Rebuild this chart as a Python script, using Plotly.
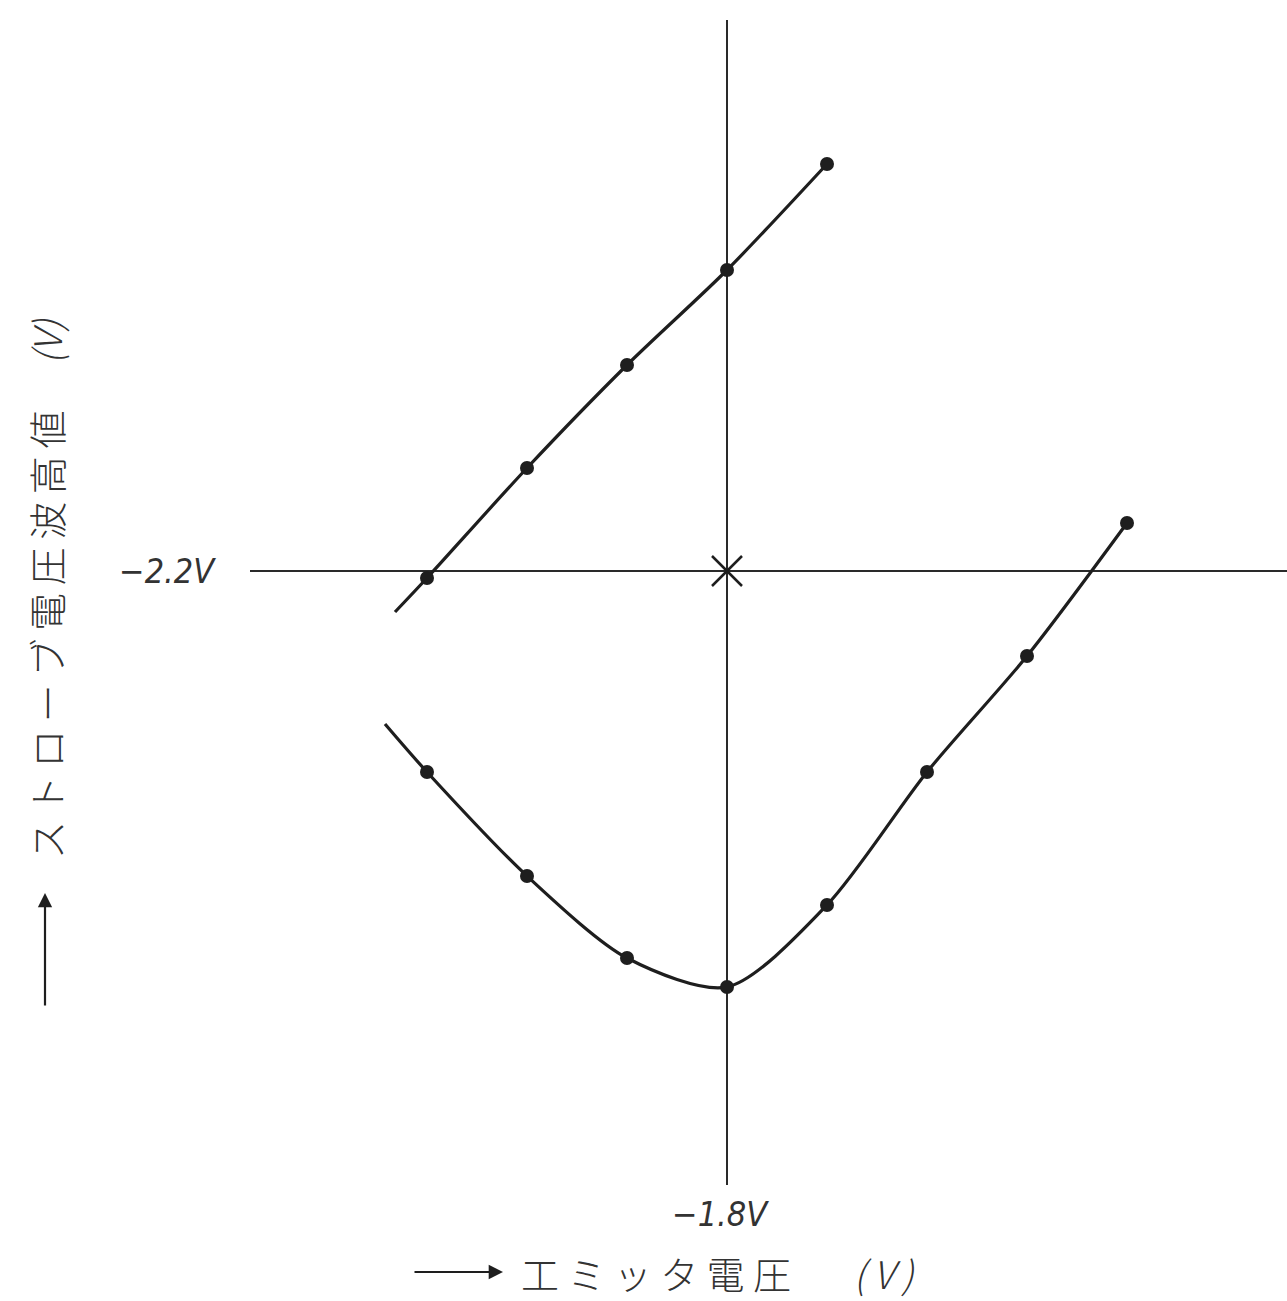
import plotly.graph_objects as go

# Reference levels (crossing point of the two guide lines)
emitter_ref = -1.8       # V
strobe_ref = -2.2        # V

# Upper branch: measured points and the short free-hand start of the curve
upper_x = [-2.10, -2.00, -1.90, -1.80, -1.70]
upper_y = [-2.207, -2.097, -1.994, -1.899, -1.793]
upper_start_x = [-2.132]
upper_start_y = [-2.241]

# Lower branch
lower_x = [-2.10, -2.00, -1.90, -1.80, -1.70, -1.60, -1.50, -1.40]
lower_y = [-2.401, -2.505, -2.587, -2.616, -2.534, -2.401, -2.285, -2.152]
lower_start_x = [-2.142]
lower_start_y = [-2.353]

# Extent of the guide lines
vline_y = [-1.649, -2.814]
hline_x = [-2.277, -1.20]

ink = "#1e1e1e"
jp_font = "Noto Sans CJK JP"
num_font = "Liberation Sans Narrow, DejaVu Sans Condensed, sans-serif"
thin = "\u2009"

fig = go.Figure()

# Guide lines
fig.add_trace(go.Scatter(x=[emitter_ref, emitter_ref], y=vline_y, mode="lines",
                         line=dict(color="#2a2a2a", width=2), hoverinfo="skip"))
fig.add_trace(go.Scatter(x=hline_x, y=[strobe_ref, strobe_ref], mode="lines",
                         line=dict(color="#2a2a2a", width=2), hoverinfo="skip"))
# Asterisk at the crossing
fig.add_trace(go.Scatter(x=[emitter_ref], y=[strobe_ref], mode="markers",
                         marker=dict(symbol="x-thin-open", size=30, color=ink,
                                     line=dict(color=ink, width=2.5)),
                         hoverinfo="skip"))

# Curves
for xs, ys, sx, sy in [(upper_x, upper_y, upper_start_x, upper_start_y),
                       (lower_x, lower_y, lower_start_x, lower_start_y)]:
    fig.add_trace(go.Scatter(x=sx + xs, y=sy + ys, mode="lines",
                             line=dict(color=ink, width=3.2, shape="spline", smoothing=0.8),
                             hoverinfo="skip"))
    fig.add_trace(go.Scatter(x=xs, y=ys, mode="markers",
                             marker=dict(color=ink, size=14, line=dict(width=0)),
                             hoverinfo="skip"))

y_title = thin.join("ストローブ電圧波高値") + "　 <i>(V)</i>"
x_title = "工 ミ ッ タ 電 圧 　 " + thin + "<i>(" + thin + "V" + thin + ")</i>"

annotations = [
    dict(x=-2.309, y=strobe_ref, xref="x", yref="y", text="<i>−2.2V</i>",
         showarrow=False, xanchor="right", yanchor="middle",
         font=dict(family=num_font, size=34, color="#333")),
    dict(x=-1.807, y=-2.843, xref="x", yref="y", text="<i>−1.8V</i>",
         showarrow=False, xanchor="center", yanchor="middle",
         font=dict(family=num_font, size=34, color="#333")),
    # x-axis title and its arrow
    dict(x=-2.008, y=-2.901, xref="x", yref="y", text=x_title,
         showarrow=False, xanchor="left", yanchor="middle",
         font=dict(family=jp_font, size=38, color="#333", weight=300)),
    dict(x=-2.024, y=-2.901, xref="x", yref="y", text="", showarrow=True,
         ax=-90, ay=0, arrowhead=2, arrowsize=1.3, arrowwidth=2.2, arrowcolor=ink),
    # y-axis title and its arrow
    dict(x=-2.482, y=-2.217, xref="x", yref="y", text=y_title, textangle=-90,
         showarrow=False, xanchor="center", yanchor="middle",
         font=dict(family=jp_font, size=38, color="#333", weight=300)),
    dict(x=-2.482, y=-2.522, xref="x", yref="y", text="", showarrow=True,
         ax=0, ay=114, arrowhead=2, arrowsize=1.3, arrowwidth=2.2, arrowcolor=ink),
]

fig.update_layout(
    width=1287, height=1301,
    margin=dict(l=0, r=0, t=0, b=0),
    paper_bgcolor="white", plot_bgcolor="white",
    showlegend=False,
    annotations=annotations,
    xaxis=dict(range=[-2.527, -1.24], visible=False, fixedrange=True),
    yaxis=dict(range=[-2.93, -1.629], visible=False, fixedrange=True),
)

fig.write_html("out.html")
